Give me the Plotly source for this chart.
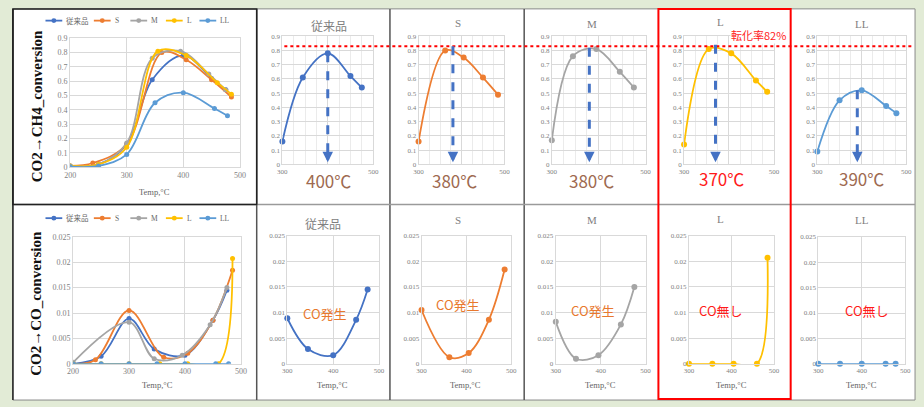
import plotly.graph_objects as go

W, H = 924, 407

# ---------------- data ----------------
series_names = ["従来品", "S", "M", "L", "LL"]
series_colors = ["#4472C4", "#ED7D31", "#A5A5A5", "#FFC000", "#5B9BD5"]

temp_conv = [200, 250, 300, 345, 400, 450, 475]
ch4_conv = [0.01, 0.02, 0.16, 0.61, 0.78, 0.62, 0.54]
co_conv = [0.0, 0.0015, 0.0089, 0.0029, 0.0017, 0.0086, 0.0145]

temp_s = [200, 240, 300, 362, 405, 450, 485]
ch4_s = [0.01, 0.03, 0.16, 0.80, 0.75, 0.61, 0.49]
co_s = [0.0, 0.0008, 0.0105, 0.0013, 0.0021, 0.0086, 0.0184]

temp_m = [200, 250, 300, 345, 395, 445, 475]
ch4_m = [0.01, 0.02, 0.17, 0.76, 0.81, 0.65, 0.54]
co_m = [0.0003, None, 0.0082, 0.0010, 0.0017, 0.0077, 0.0150]

temp_l = [200, 250, 300, 355, 405, 460, 485]
ch4_l = [0.01, 0.02, 0.14, 0.81, 0.78, 0.59, 0.51]
co_l = [0.0, 0.0, 0.0, 0.0, 0.0, 0.0, 0.0207]

temp_ll = [200, 250, 300, 350, 400, 455, 478]
ch4_ll = [0.005, 0.01, 0.09, 0.45, 0.52, 0.41, 0.36]
co_ll = [0.0, 0.0, 0.0, 0.0, 0.0, 0.0, 0.0]

temps = [temp_conv, temp_s, temp_m, temp_l, temp_ll]
ch4 = [ch4_conv, ch4_s, ch4_m, ch4_l, ch4_ll]
co = [co_conv, co_s, co_m, co_l, co_ll]

peak_temps = [400, 380, 380, 370, 390]
peak_conv = [0.78, 0.83, 0.82, 0.84, 0.52]
peak_labels = ["400℃", "380℃", "380℃", "370℃", "390℃"]
co_labels = ["CO発生", "CO発生", "CO発生", "CO無し", "CO無し"]
threshold_conv = 0.83
threshold_label = "転化率82%"

ch4_ticks = [0, 0.1, 0.2, 0.3, 0.4, 0.5, 0.6, 0.7, 0.8, 0.9]
co_ticks = [0, 0.005, 0.01, 0.015, 0.02, 0.025]

# ---------------- layout helpers ----------------
def fx(x):
    return x / W

def fy(y):
    return 1 - y / H

panels = [
    (65, 237, 35, 167), (280, 372, 33, 164), (418, 505, 33, 164),
    (553, 648, 33, 164), (687, 778, 33, 164), (822, 912, 33, 164),
    (68, 238, 238, 368), (285, 378, 237, 368), (421, 512, 237, 368),
    (557, 648, 237, 368), (692, 778, 237, 368), (823, 911, 238, 368),
]

GRID = "#d9d9d9"
TICKC = "#7f7f7f"
SERIF = "Liberation Serif, Noto Sans CJK JP"
CJK = "Noto Sans CJK JP"
BROWN = "#9E6A50"
RED = "#FF1A1A"
ORANGE = "#E8782E"

fig = go.Figure()

layout = dict(
    width=W, height=H, margin=dict(l=0, r=0, t=0, b=0),
    paper_bgcolor="#e2ebd6", plot_bgcolor="white", showlegend=False,
)

for i, (l, r, t, b) in enumerate(panels):
    n = "" if i == 0 else str(i + 1)
    main = i in (0, 6)
    top = i < 6
    fs = 8 if main else 7
    xa = dict(domain=[fx(l), fx(r)], anchor="y" + n, showgrid=True, gridcolor=GRID,
              showline=True, linecolor=GRID, mirror=True, zeroline=False, ticks="",
              tickfont=dict(family=SERIF, size=fs, color=TICKC), fixedrange=True)
    ya = dict(domain=[fy(b), fy(t)], anchor="x" + n, showgrid=True, gridcolor=GRID,
              showline=True, linecolor=GRID, mirror=True, zeroline=False, ticks="",
              tickfont=dict(family=SERIF, size=fs, color=TICKC), fixedrange=True)
    if main:
        xa.update(range=[200, 500], tickvals=[200, 300, 400, 500])
    else:
        xa.update(range=[300, 500], tickvals=[300, 400, 500])
    if top and not main:
        xa.update(ticktext=["300", "", "500"],
                  minor=dict(dtick=25, showgrid=True, gridcolor="#ebebeb"))
    if top:
        ya.update(range=[0, 0.9], tickvals=ch4_ticks)
    else:
        ya.update(range=[0, 0.025], tickvals=co_ticks,
                  ticktext=["0", "0.005", "0.01", "0.015", "0.02", "0.025"])
    layout["xaxis" + n] = xa
    layout["yaxis" + n] = ya

fig.update_layout(**layout)

# ---------------- traces ----------------
def add_series(k, yvals, axis_idx, min_t=None, msize=5):
    xs, ys = [], []
    for t, v in zip(temps[k], yvals):
        if min_t is None or t >= min_t:
            xs.append(t)
            ys.append(v)
    n = "" if axis_idx == 1 else str(axis_idx)
    fig.add_trace(go.Scatter(
        x=xs, y=ys, mode="lines+markers", name=series_names[k],
        line=dict(color=series_colors[k], width=1.8, shape="spline", smoothing=1),
        marker=dict(color=series_colors[k], size=msize), connectgaps=True,
        xaxis="x" + n, yaxis="y" + n, cliponaxis=(min_t is None),
    ))

for k in range(5):
    add_series(k, ch4[k], 1)
for k in range(5):
    add_series(k, ch4[k], k + 2, min_t=300, msize=6)
for k in range(5):
    add_series(k, co[k], 7)
for k in range(5):
    add_series(k, co[k], k + 8, min_t=300, msize=6)

shapes = []
ann = []

def text_at(x, y, text, font, **kw):
    d = dict(xref="paper", yref="paper", x=fx(x), y=fy(y), text=text, showarrow=False,
             xanchor="center", yanchor="middle", font=font)
    d.update(kw)
    ann.append(d)

# table background & borders
shapes.append(dict(type="rect", xref="paper", yref="paper", x0=fx(7), x1=fx(921), y0=fy(405), y1=fy(5),
                   fillcolor="white", line=dict(color="#8a8a8a", width=1), layer="below"))
for xv in (254, 389, 525):
    shapes.append(dict(type="line", xref="paper", yref="paper", x0=fx(xv), x1=fx(xv), y0=fy(405), y1=fy(5),
                       line=dict(color="#555555", width=1.5), layer="below"))
shapes.append(dict(type="line", xref="paper", yref="paper", x0=fx(7), x1=fx(921), y0=fy(205), y1=fy(205),
                   line=dict(color="#9a9a9a", width=1.5), layer="below"))
shapes.append(dict(type="rect", xref="paper", yref="paper", x0=fx(7), x1=fx(254), y0=fy(205), y1=fy(5),
                   line=dict(color="#222222", width=1.5), layer="below"))
shapes.append(dict(type="line", xref="paper", yref="paper", x0=fx(7), x1=fx(7), y0=fy(405), y1=fy(5),
                   line=dict(color="#222222", width=1.5), layer="below"))
shapes.append(dict(type="rect", xref="paper", yref="paper", x0=fx(661), x1=fx(795), y0=fy(404), y1=fy(5),
                   line=dict(color="#FF0000", width=2)))

# threshold dotted line across individual panels
shapes.append(dict(type="line", xref="paper", yref="y5", x0=fx(282), x1=fx(918),
                   y0=threshold_conv, y1=threshold_conv,
                   line=dict(color="#FF0000", width=2, dash="dot")))
text_at(762, 32, threshold_label, dict(family=CJK, size=11, color=RED), bgcolor="white", borderpad=0)

# peak arrows and labels
label_pos = [(327, 181), (454, 181), (593, 181), (725, 178), (867, 178)]
for k in range(5):
    n = str(k + 2)
    shapes.append(dict(type="line", xref="x" + n, yref="y" + n, x0=peak_temps[k], x1=peak_temps[k],
                       y0=peak_conv[k], y1=0.06, line=dict(color="#4472C4", width=3, dash="dash")))
    ann.append(dict(xref="x" + n, yref="y" + n, x=peak_temps[k], y=0.015, ax=0, ay=-10, text="",
                    showarrow=True, arrowhead=2, arrowsize=0.7, arrowwidth=3, arrowcolor="#4472C4"))
    lx, ly = label_pos[k]
    text_at(lx, ly, peak_labels[k], dict(family=CJK, size=17, color=(RED if k == 3 else BROWN)))

# panel titles
top_title_pos = [(327, 22), (458, 19), (594, 20), (724, 18), (867, 20)]
bot_title_pos = [(321, 224), (458, 221), (594, 221), (724, 220), (867, 221)]
for k in range(5):
    for (tx, ty) in (top_title_pos[k], bot_title_pos[k]):
        text_at(tx, ty, series_names[k],
                dict(family=(CJK if k == 0 else SERIF), size=(12 if k == 0 else 11), color="#808080"))

# CO labels
co_pos = [(323, 317), (458, 307), (595, 313), (724, 313), (872, 313)]
for k in range(5):
    cx, cy = co_pos[k]
    text_at(cx, cy, co_labels[k], dict(family=CJK, size=13, color=(RED if k >= 3 else ORANGE)))

# y titles of summary panels
text_at(31, 105, "<b>CO2→CH4_conversion</b>", dict(family="Liberation Serif", size=15, color="#111111"),
        textangle=-90)
text_at(31, 306, "<b>CO2→CO_conversion</b>", dict(family="Liberation Serif", size=15, color="#111111"),
        textangle=-90)

# x titles
for (tx, ty) in [(150, 192), (153, 390), (331, 390), (466, 390), (602, 390), (735, 390), (867, 390)]:
    text_at(tx, ty, "Temp,°C", dict(family=SERIF, size=8.5, color="#666666"))

# manual legends
leg_line_x = [40, 89, 126, 162, 196]
for ly in (17, 219):
    for k in range(5):
        x0 = leg_line_x[k]
        shapes.append(dict(type="line", xref="paper", yref="paper", x0=fx(x0), x1=fx(x0 + 17),
                           y0=fy(ly), y1=fy(ly), line=dict(color=series_colors[k], width=1.8)))
        cxp = x0 + 8.5
        shapes.append(dict(type="circle", xref="paper", yref="paper", x0=fx(cxp - 2.5), x1=fx(cxp + 2.5),
                           y0=fy(ly + 2.5), y1=fy(ly - 2.5), fillcolor=series_colors[k],
                           line=dict(color=series_colors[k], width=0)))
        text_at(x0 + 19, ly, series_names[k], dict(family=SERIF, size=7.5, color="#666666"), xanchor="left")

fig.update_layout(shapes=shapes, annotations=ann)
fig.write_html("out.html", config={"displayModeBar": False},
               post_script="document.body.style.margin='0';document.body.style.padding='0';")
